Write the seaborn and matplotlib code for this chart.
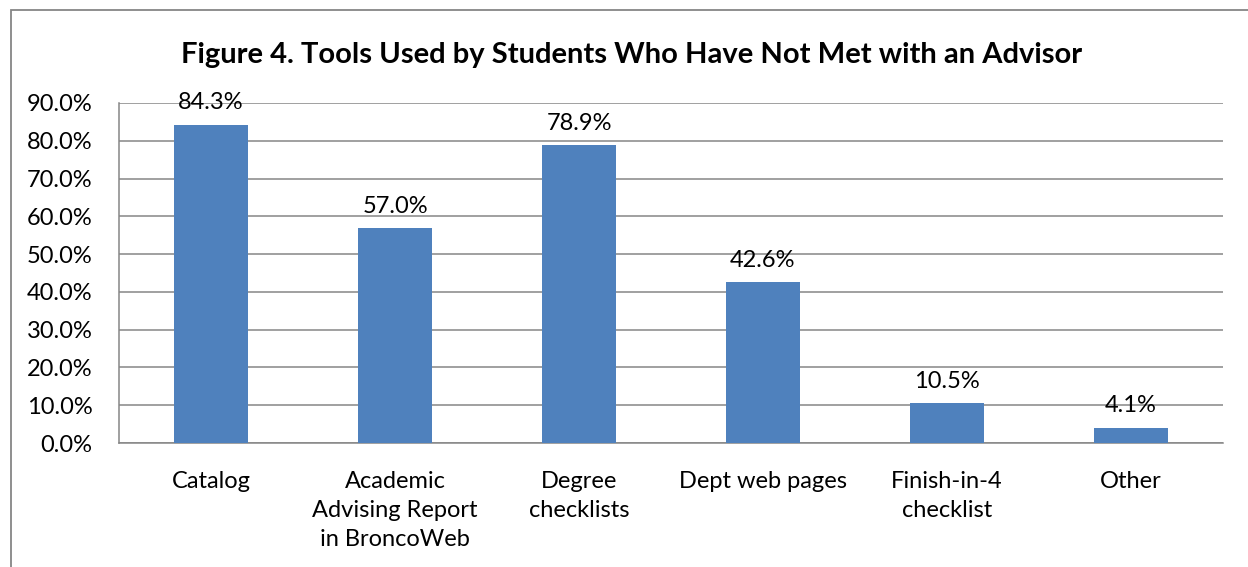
import matplotlib
matplotlib.use("Agg")
import matplotlib.pyplot as plt
import matplotlib.patches as mpatches
import seaborn as sns
import pandas as pd
from matplotlib.ticker import PercentFormatter

categories = ["Catalog", "Academic\nAdvising Report\nin BroncoWeb", "Degree\nchecklists",
              "Dept web pages", "Finish-in-4\nchecklist", "Other"]
values = [84.3, 57.0, 78.9, 42.6, 10.5, 4.1]
y_ticks = [0, 10, 20, 30, 40, 50, 60, 70, 80, 90]
title = "Figure 4. Tools Used by Students Who Have Not Met with an Advisor"

sns.set_theme(style="white")
plt.rcParams["font.family"] = ["Lato", "DejaVu Sans"]

df = pd.DataFrame({"tool": categories, "pct": values})

fig = plt.figure(figsize=(12.48, 5.67), dpi=100)
ax = fig.add_axes([119 / 1248, 1 - 443 / 567, (1223 - 119) / 1248, (443 - 103) / 567])

grid_color = "#868686"
bar_color = "#4F81BD"
fs = 17

sns.barplot(data=df, x="tool", y="pct", color=bar_color, width=0.4,
            saturation=1, linewidth=0, edgecolor="none", ax=ax, zorder=3)

ax.set_ylim(0, 90)
ax.set_xlim(-0.5, len(categories) - 0.5)
ax.set_yticks(y_ticks)
ax.yaxis.set_major_formatter(PercentFormatter(decimals=1))
ax.grid(axis="y", color=grid_color, linewidth=1.1, zorder=0)
ax.set_axisbelow(True)
for side in ["top", "right"]:
    ax.spines[side].set_visible(False)
for side in ["left", "bottom"]:
    ax.spines[side].set_color(grid_color)
    ax.spines[side].set_linewidth(1.1)
ax.tick_params(axis="both", length=0, labelsize=fs, colors="black")
ax.tick_params(axis="y", pad=19)
ax.tick_params(axis="x", pad=20)
for lbl in ax.get_xticklabels():
    lbl.set_linespacing(1.48)
ax.set_xlabel("")
ax.set_ylabel("")

for container in ax.containers:
    ax.bar_label(container, labels=[f"{v:.1f}%" for v in values],
                 padding=8, fontsize=fs, color="black")

fig.text(632 / 1248, 1 - 55 / 567, title, ha="center", va="center",
         fontsize=21, fontweight="bold", color="black")

# chart frame
fig.patches.append(mpatches.Rectangle((11 / 1248, -0.1), 1.2, 1 - 9.5 / 567 + 0.1,
                                      transform=fig.transFigure, fill=False,
                                      edgecolor=grid_color, linewidth=1.3))

fig.savefig("out.png", dpi=100, facecolor="white")
